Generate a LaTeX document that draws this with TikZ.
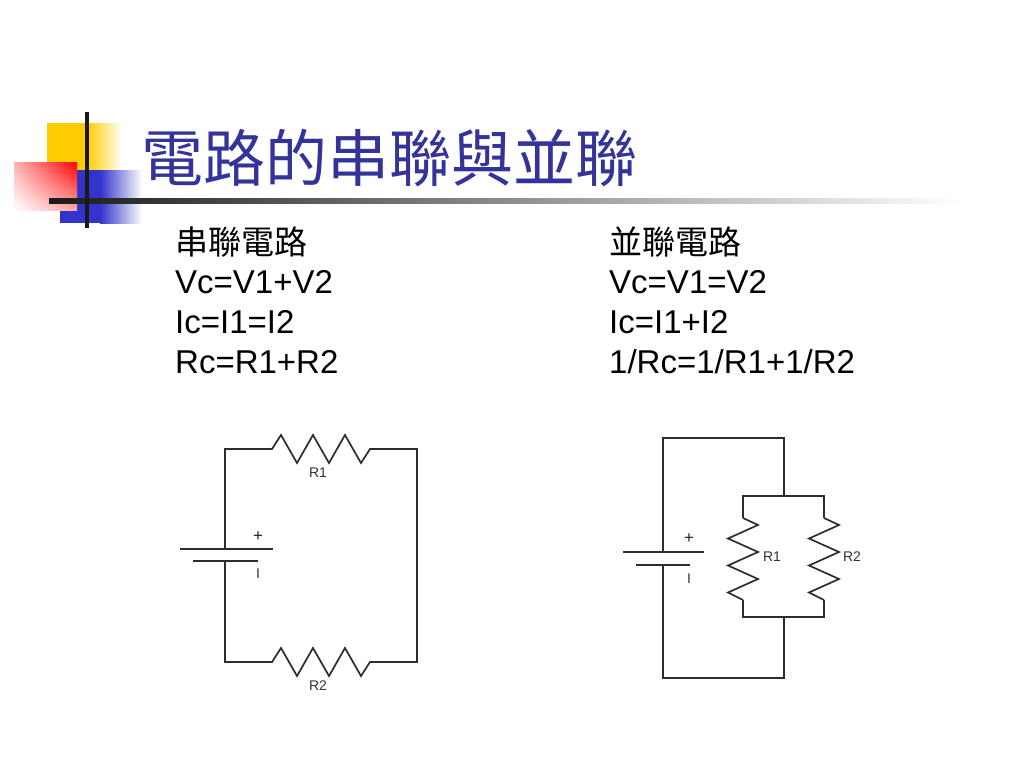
\documentclass[tikz,border=0pt]{standalone}
\usepackage{fontspec}
\usetikzlibrary{shadings}
\setmainfont{Liberation Sans}
\newfontfamily\cjk{Noto Sans CJK TC}
\definecolor{titleblue}{RGB}{51,51,153}
\definecolor{deckyellow}{RGB}{255,204,0}
\definecolor{deckblue}{RGB}{51,51,204}
\definecolor{wire}{RGB}{45,45,45}
\tikzset{
  txt/.style={anchor=base west,inner sep=0pt,font=\fontsize{33}{40}\selectfont},
  cjktxt/.style={anchor=west,inner sep=0pt,font=\cjk\fontsize{33}{40}\selectfont},
  lbl/.style={inner sep=0pt,font=\fontsize{14}{16}\selectfont,text=black!80},
  sign/.style={inner sep=0pt,font=\fontsize{17}{18}\selectfont,text=black!85},
  wires/.style={line width=1.7pt,draw=wire,line join=miter}
}
\begin{document}
\begin{tikzpicture}[x=1pt,y=-1pt]
  \useasboundingbox (0,0) rectangle (1024,768);
  \fill[deckyellow] (47,123) rectangle (88,170);
  \shade[left color=deckyellow,right color=white] (87,123) rectangle (122,170);
  \fill[deckblue] (60,170) rectangle (101,223);
  \shade[left color=deckblue,right color=white] (100,170) rectangle (142,223);
  \shade[upper right=red,lower left=white,upper left=red!30,lower right=red!35] (14,162) rectangle (77,210);
  \shade[left color=black!90,right color=white] (49,198.5) rectangle (960,203.5);
  \fill[black!90] (85,112) rectangle (89,228);
  \node[anchor=west,inner sep=0pt,text=titleblue,font=\cjk\fontsize{62}{70}\selectfont] (title) at (141,158) {電路的串聯與並聯};
  \node[cjktxt] (shead) at (175,242) {串聯電路};
  \node[txt] (s1) at (175,293) {Vc=V1+V2};
  \node[txt] (s2) at (175,333) {Ic=I1=I2};
  \node[txt] (s3) at (175,373) {Rc=R1+R2};
  \node[cjktxt] (phead) at (609,242) {並聯電路};
  \node[txt] (p1) at (609,293) {Vc=V1=V2};
  \node[txt] (p2) at (609,333) {Ic=I1+I2};
  \node[txt] (p3) at (609,373) {1/Rc=1/R1+1/R2};
  \coordinate (stl) at (225,449);
  \coordinate (str) at (417,449);
  \coordinate (sbr) at (417,662);
  \coordinate (sbl) at (225,662);
  \coordinate (r1a) at (272,449);
  \coordinate (r1b) at (370,449);
  \coordinate (r2a) at (272,662);
  \coordinate (r2b) at (370,662);
  \coordinate (sp1) at (180,549);
  \coordinate (sp2) at (273,549);
  \coordinate (sm1) at (193,561);
  \coordinate (sm2) at (258,561);
  \coordinate (sbt) at (225,549);
  \coordinate (sbb) at (225,561);
  \node[lbl] (lr1) at (318,473) {R1};
  \node[lbl] (lr2) at (318,686) {R2};
  \node[sign] (splus) at (258,537) {+};
  \node[lbl] (sminus) at (258,574) {I};
  \coordinate (ptl) at (663,438);
  \coordinate (ptr) at (784,438);
  \coordinate (pjt) at (784,496);
  \coordinate (pjb) at (784,617);
  \coordinate (pbr) at (784,678);
  \coordinate (pbl) at (663,678);
  \coordinate (b1t) at (743,496);
  \coordinate (b2t) at (824,496);
  \coordinate (b1b) at (743,617);
  \coordinate (b2b) at (824,617);
  \coordinate (q1a) at (743,518);
  \coordinate (q1b) at (743,600);
  \coordinate (q2a) at (824,518);
  \coordinate (q2b) at (824,600);
  \coordinate (pp1) at (623,552);
  \coordinate (pp2) at (704,552);
  \coordinate (pm1) at (636,565);
  \coordinate (pm2) at (690,565);
  \coordinate (pbt) at (663,552);
  \coordinate (pbb) at (663,565);
  \node[lbl] (lq1) at (772,557) {R1};
  \node[lbl] (lq2) at (852,557) {R2};
  \node[sign] (pplus) at (689,539) {+};
  \node[lbl] (pminus) at (689,579) {I};
  \begin{scope}[wires]
    \draw (sp1) -- (sp2);
    \draw (sm1) -- (sm2);
    \draw (sbt) -- (stl) -- (r1a) -- ++(9,-14) -- ++(16,28) -- ++(16,-28) -- ++(16,28) -- ++(16,-28) -- ++(16,28) -- (r1b) -- (str) -- (sbr) -- (r2b)
      -- ++(-9,14) -- ++(-16,-28) -- ++(-16,28) -- ++(-16,-28) -- ++(-16,28) -- ++(-16,-28) -- (r2a) -- (sbl) -- (sbb);
    \draw (pp1) -- (pp2);
    \draw (pm1) -- (pm2);
    \draw (pbt) -- (ptl) -- (ptr) -- (pjt);
    \draw (q1a) -- (b1t) -- (b2t) -- (q2a);
    \draw (q1b) -- (b1b) -- (b2b) -- (q2b);
    \draw (pjb) -- (pbr) -- (pbl) -- (pbb);
    \draw (q1a) -- ++(15,7) -- ++(-30,13.5) -- ++(30,13.5) -- ++(-30,13.5) -- ++(30,13.5) -- ++(-30,13.5) -- (q1b);
    \draw (q2a) -- ++(15,7) -- ++(-30,13.5) -- ++(30,13.5) -- ++(-30,13.5) -- ++(30,13.5) -- ++(-30,13.5) -- (q2b);
  \end{scope}
\end{tikzpicture}
\end{document}
